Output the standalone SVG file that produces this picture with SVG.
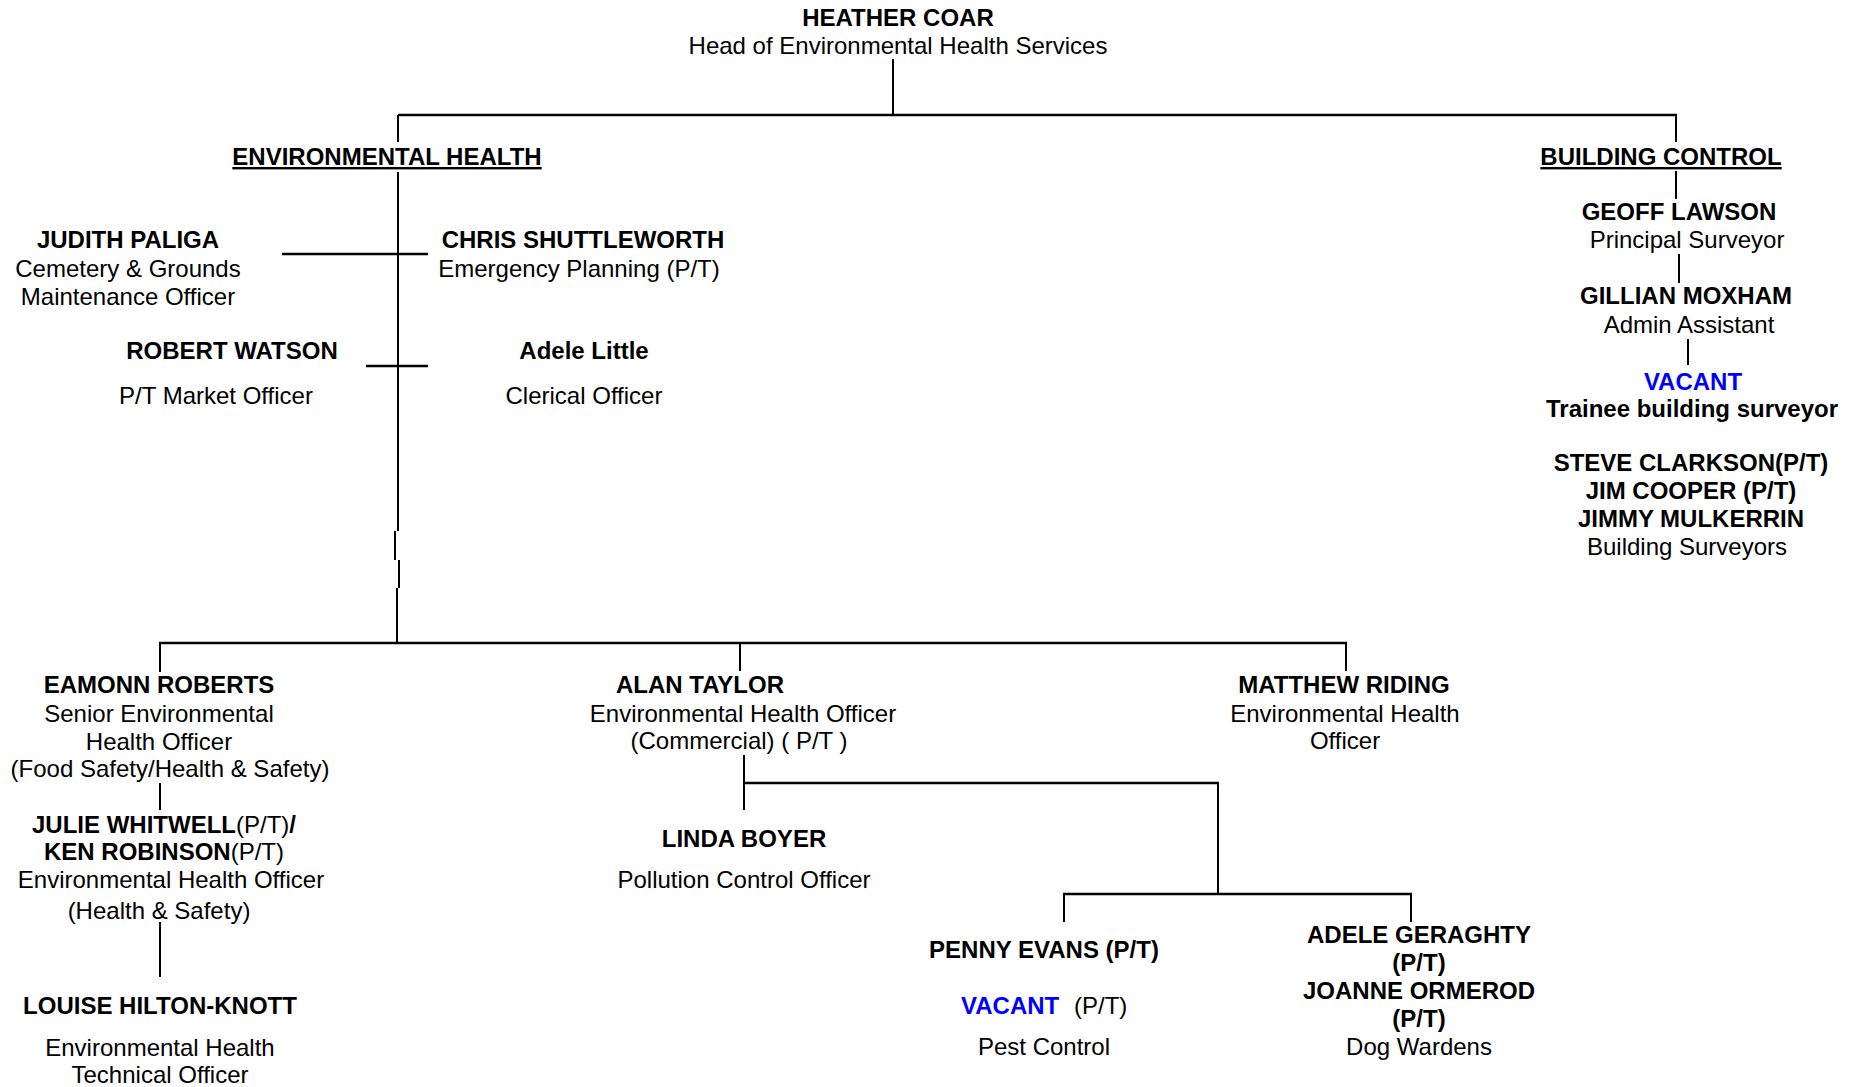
<svg xmlns="http://www.w3.org/2000/svg" width="1860" height="1087" viewBox="0 0 1860 1087">
<style>
text{font-family:"Liberation Sans",Arial,sans-serif;font-size:24px;fill:#000}
.c{text-anchor:middle}
.b{font-weight:bold}
.u{text-decoration:underline}
.v{fill:#0000FF;font-weight:bold}
.n{font-weight:normal}
#connectors line,#connectors path{stroke:#000;stroke-width:2;fill:none}
#connectors .h{stroke-width:2.5}
</style>
<rect width="1860" height="1087" fill="#fff"/>
<g id="connectors">
<line x1="893" y1="59" x2="893" y2="115"/>
<line class="h" x1="398" y1="115" x2="1677" y2="115"/>
<line x1="398" y1="115" x2="398" y2="142"/>
<line x1="1676" y1="115" x2="1676" y2="142"/>
<line x1="398" y1="172" x2="398" y2="531"/>
<line x1="395" y1="531" x2="395" y2="560"/>
<line x1="399" y1="560" x2="399" y2="588"/>
<line x1="397" y1="588" x2="397" y2="643"/>
<line class="h" x1="282" y1="254" x2="428" y2="254"/>
<line class="h" x1="366" y1="366" x2="428" y2="366"/>
<line class="h" x1="159" y1="643" x2="1347" y2="643"/>
<line x1="160" y1="643" x2="160" y2="672"/>
<line x1="740" y1="643" x2="740" y2="671"/>
<line x1="1346" y1="643" x2="1346" y2="671"/>
<line x1="160" y1="783" x2="160" y2="810"/>
<line x1="160" y1="922" x2="160" y2="977"/>
<line x1="744" y1="755" x2="744" y2="810"/>
<line class="h" x1="744" y1="783" x2="1219" y2="783"/>
<line x1="1218" y1="783" x2="1218" y2="894"/>
<line class="h" x1="1063" y1="894" x2="1412" y2="894"/>
<line x1="1064" y1="894" x2="1064" y2="922"/>
<line x1="1411" y1="894" x2="1411" y2="922"/>
<line x1="1676" y1="171" x2="1676" y2="199"/>
<line x1="1679" y1="254" x2="1679" y2="283"/>
<line x1="1688" y1="339" x2="1688" y2="365"/>
</g>
<g id="heather-coar">
<text class="c b" x="898" y="26">HEATHER COAR</text>
<text class="c" x="898" y="54">Head of Environmental Health Services</text>
</g>
<g id="environmental-health">
<text class="c b u" x="387" y="165">ENVIRONMENTAL HEALTH</text>
</g>
<g id="building-control">
<text class="c b u" x="1661" y="165">BUILDING CONTROL</text>
</g>
<g id="judith-paliga">
<text class="c b" x="128" y="248">JUDITH PALIGA</text>
<text class="c" x="128" y="277">Cemetery &amp; Grounds</text>
<text class="c" x="128" y="305">Maintenance Officer</text>
</g>
<g id="chris-shuttleworth">
<text class="c b" x="583" y="248">CHRIS SHUTTLEWORTH</text>
<text class="c" x="579" y="277">Emergency Planning (P/T)</text>
</g>
<g id="robert-watson">
<text class="c b" x="232" y="359">ROBERT WATSON</text>
<text class="c" x="216" y="404">P/T Market Officer</text>
</g>
<g id="adele-little">
<text class="c b" x="584" y="359">Adele Little</text>
<text class="c" x="584" y="404">Clerical Officer</text>
</g>
<g id="geoff-lawson">
<text class="c b" x="1679" y="220">GEOFF LAWSON</text>
<text class="c" x="1687" y="248">Principal Surveyor</text>
</g>
<g id="gillian-moxham">
<text class="c b" x="1686" y="304">GILLIAN MOXHAM</text>
<text class="c" x="1689" y="333">Admin Assistant</text>
</g>
<g id="vacant-trainee">
<text class="c v" x="1693" y="390">VACANT</text>
<text class="c b" x="1692" y="417">Trainee building surveyor</text>
</g>
<g id="building-surveyors">
<text class="c b" x="1691" y="471">STEVE CLARKSON(P/T)</text>
<text class="c b" x="1691" y="499">JIM COOPER (P/T)</text>
<text class="c b" x="1691" y="527">JIMMY MULKERRIN</text>
<text class="c" x="1687" y="555">Building Surveyors</text>
</g>
<g id="eamonn-roberts">
<text class="c b" x="159" y="693">EAMONN ROBERTS</text>
<text class="c" x="159" y="722">Senior Environmental</text>
<text class="c" x="159" y="750">Health Officer</text>
<text class="c" x="170" y="777">(Food Safety/Health &amp; Safety)</text>
</g>
<g id="julie-whitwell-ken-robinson">
<text class="c" x="164" y="833"><tspan class="b">JULIE WHITWELL</tspan>(P/T)<tspan class="b">/</tspan></text>
<text class="c" x="164" y="860"><tspan class="b">KEN ROBINSON</tspan>(P/T)</text>
<text class="c" x="171" y="888">Environmental Health Officer</text>
<text class="c" x="159" y="919">(Health &amp; Safety)</text>
</g>
<g id="louise-hilton-knott">
<text class="c b" x="160" y="1014">LOUISE HILTON-KNOTT</text>
<text class="c" x="160" y="1056">Environmental Health</text>
<text class="c" x="160" y="1083">Technical Officer</text>
</g>
<g id="alan-taylor">
<text class="c b" x="700" y="693">ALAN TAYLOR</text>
<text class="c" x="743" y="722">Environmental Health Officer</text>
<text class="c" x="739" y="749">(Commercial) ( P/T )</text>
</g>
<g id="matthew-riding">
<text class="c b" x="1344" y="693">MATTHEW RIDING</text>
<text class="c" x="1345" y="722">Environmental Health</text>
<text class="c" x="1345" y="749">Officer</text>
</g>
<g id="linda-boyer">
<text class="c b" x="744" y="847">LINDA BOYER</text>
<text class="c" x="744" y="888">Pollution Control Officer</text>
</g>
<g id="pest-control">
<text class="c b" x="1044" y="958">PENNY EVANS (P/T)</text>
<text x="961" y="1014"><tspan class="v">VACANT</tspan><tspan x="1074">(P/T)</tspan></text>
<text class="c" x="1044" y="1055">Pest Control</text>
</g>
<g id="dog-wardens">
<text class="c b" x="1419" y="943">ADELE GERAGHTY</text>
<text class="c b" x="1419" y="971">(P/T)</text>
<text class="c b" x="1419" y="999">JOANNE ORMEROD</text>
<text class="c b" x="1419" y="1027">(P/T)</text>
<text class="c" x="1419" y="1055">Dog Wardens</text>
</g>
</svg>
